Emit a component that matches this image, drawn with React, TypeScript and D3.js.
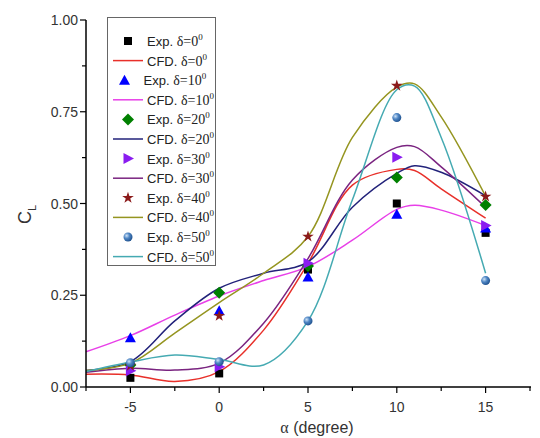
import * as d3 from 'd3';

// experimental points
const alphaExp = [-5, 0, 5, 10, 15];
const exp0 = [0.025, 0.037, 0.32, 0.5, 0.42];
const exp10 = [0.134, 0.208, 0.3, 0.471, 0.433];
const exp20 = [0.06, 0.257, 0.33, 0.571, 0.496];
const exp30 = [0.044, 0.055, 0.337, 0.626, 0.44];
const exp40 = [0.058, 0.194, 0.41, 0.821, 0.519];
const exp50 = [0.066, 0.069, 0.18, 0.734, 0.29];

// CFD curves
const alphaCfd = [-7.5, -5, -2.5, 0, 2.5, 5, 7.5, 10, 11, 12.5, 15];
const cfd0 = [0.035, 0.033, 0.015, 0.042, 0.155, 0.337, 0.55, 0.593, 0.59, 0.54, 0.46];
const cfd10 = [0.096, 0.14, 0.196, 0.248, 0.29, 0.328, 0.4, 0.484, 0.495, 0.482, 0.44];
const cfd20 = [0.045, 0.069, 0.18, 0.269, 0.31, 0.341, 0.49, 0.582, 0.603, 0.585, 0.521];
const cfd30 = [0.04, 0.051, 0.046, 0.065, 0.174, 0.35, 0.564, 0.653, 0.655, 0.6, 0.49];
const cfd40 = [0.045, 0.065, 0.147, 0.23, 0.31, 0.41, 0.68, 0.817, 0.826, 0.736, 0.52];
const cfd50 = [0.042, 0.068, 0.087, 0.075, 0.06, 0.18, 0.51, 0.81, 0.82, 0.68, 0.31];

const xTicks = [-5, 0, 5, 10, 15];
const yTicks = [0, 0.25, 0.5, 0.75, 1.0];
const deltas = ['0', '10', '20', '30', '40', '50'];

const expSeries = [
  { vals: exp0, shape: 'square', color: '#000000' },
  { vals: exp10, shape: 'triangle', color: '#0000ff' },
  { vals: exp20, shape: 'diamond', color: '#008000' },
  { vals: exp30, shape: 'right', color: '#8a1cf0' },
  { vals: exp40, shape: 'star', color: '#8b1a1a' },
  { vals: exp50, shape: 'sphere', color: '#2f6eb0' },
];
const cfdSeries = [
  { vals: cfd0, color: '#e8302a' },
  { vals: cfd10, color: '#e840e8' },
  { vals: cfd20, color: '#22227a' },
  { vals: cfd30, color: '#7a2480' },
  { vals: cfd40, color: '#959520' },
  { vals: cfd50, color: '#45aab2' },
];

const W = 540;
const H = 438;

function Marker({ shape, color, x, y }: { shape: string; color: string; x: number; y: number }) {
  if (shape === 'square') return <rect x={x - 4} y={y - 4} width={8} height={8} fill={color} />;
  if (shape === 'triangle')
    return <path d={`M${x},${y - 5.5}L${x + 5.5},${y + 4.5}L${x - 5.5},${y + 4.5}Z`} fill={color} />;
  if (shape === 'diamond')
    return <path d={`M${x},${y - 6}L${x + 6},${y}L${x},${y + 6}L${x - 6},${y}Z`} fill={color} />;
  if (shape === 'right')
    return <path d={`M${x + 6},${y}L${x - 4.5},${y + 5.5}L${x - 4.5},${y - 5.5}Z`} fill={color} />;
  if (shape === 'star') {
    const sym = d3.symbol().type(d3.symbolStar).size(42)();
    return <path d={sym || ''} transform={`translate(${x},${y})`} fill={color} />;
  }
  return <circle cx={x} cy={y} r={4.5} fill="url(#sph)" />;
}

export default function App() {
  const x = d3.scaleLinear().domain([-7.5, 17.5]).range([86, 530]);
  const y = d3.scaleLinear().domain([0, 1]).range([387, 20]);
  const line = d3
    .line<number>()
    .x((_, i) => x(alphaCfd[i]))
    .y((v) => y(v))
    .curve(d3.curveCatmullRom.alpha(0.5));

  const xMinor = d3.range(-7.5, 17.6, 2.5).filter((v) => !xTicks.includes(v));
  const yMinor = d3.range(0.125, 1, 0.25);
  const font = 'Arial, "Liberation Sans", sans-serif';
  const tickColor = '#333';

  const rowY = (i: number) => 41 + i * 19.6;

  return (
    <svg width={W} height={H} style={{ position: 'absolute', left: 0, top: 0 }} fontFamily={font}>
      <defs>
        <radialGradient id="sph" cx="0.35" cy="0.35" r="0.7">
          <stop offset="0" stopColor="#cfe3f7" />
          <stop offset="0.45" stopColor="#4f86c4" />
          <stop offset="1" stopColor="#1d4f8c" />
        </radialGradient>
      </defs>
      <rect width={W} height={H} fill="#fff" />

      {/* curves */}
      {cfdSeries.map((s, i) => (
        <path key={i} d={line(s.vals) || ''} fill="none" stroke={s.color} strokeWidth={1.5} />
      ))}
      {expSeries.map((s, i) =>
        s.vals.map((v, j) => <Marker key={`${i}-${j}`} shape={s.shape} color={s.color} x={x(alphaExp[j])} y={y(v)} />)
      )}

      {/* axes */}
      <line x1={86} x2={531} y1={387} y2={387} stroke="#000" strokeWidth={1.5} />
      <line x1={86} x2={86} y1={20} y2={387} stroke="#000" strokeWidth={1.5} />
      {xTicks.map((t) => (
        <g key={t}>
          <line x1={x(t)} x2={x(t)} y1={387} y2={393} stroke="#000" strokeWidth={1.2} />
          <text x={x(t)} y={412} textAnchor="middle" fontSize={14} fill={tickColor}>
            {t}
          </text>
        </g>
      ))}
      {xMinor.map((t) => (
        <line key={t} x1={x(t)} x2={x(t)} y1={387} y2={391} stroke="#000" strokeWidth={1.2} />
      ))}
      {yTicks.map((t) => (
        <g key={t}>
          <line x1={80} x2={86} y1={y(t)} y2={y(t)} stroke="#000" strokeWidth={1.2} />
          <text x={78} y={y(t) + 5} textAnchor="end" fontSize={14} fill={tickColor}>
            {t.toFixed(2)}
          </text>
        </g>
      ))}
      {yMinor.map((t) => (
        <line key={t} x1={82} x2={86} y1={y(t)} y2={y(t)} stroke="#000" strokeWidth={1.2} />
      ))}

      {/* axis titles */}
      <text x={317} y={433} textAnchor="middle" fontSize={16} fill={tickColor}>
        <tspan fontFamily="'Liberation Serif', serif">α</tspan> (degree)
      </text>
      <text transform="translate(31,224) rotate(-90)" fontSize={18} fill={tickColor}>
        C<tspan fontSize={11} dy={5}>L</tspan>
      </text>

      {/* legend */}
      <rect x={107.5} y={17.5} width={108} height={248} fill="#fff" stroke="#666" strokeWidth={1} />
      {deltas.map((d, i) => {
        const ye = rowY(i * 2);
        const yc = rowY(i * 2 + 1);
        const shift = i === 1 ? -3.5 : 0;
        const s = expSeries[i];
        return (
          <g key={d} fontSize={13} fill="#222">
            <Marker shape={s.shape} color={s.color} x={128 + shift} y={ye} />
            <text x={147 + shift} y={ye + 5}>
              Exp. <tspan fontFamily="'Liberation Serif', serif" fontSize={14}>δ={d}</tspan>
              <tspan fontFamily="'Liberation Serif', serif" fontSize={9} dy={-6}>0</tspan>
            </text>
            <line x1={113} x2={143} y1={yc} y2={yc} stroke={cfdSeries[i].color} strokeWidth={1.5} />
            <text x={147} y={yc + 5}>
              CFD. <tspan fontFamily="'Liberation Serif', serif" fontSize={14}>δ={d}</tspan>
              <tspan fontFamily="'Liberation Serif', serif" fontSize={9} dy={-6}>0</tspan>
            </text>
          </g>
        );
      })}
    </svg>
  );
}
